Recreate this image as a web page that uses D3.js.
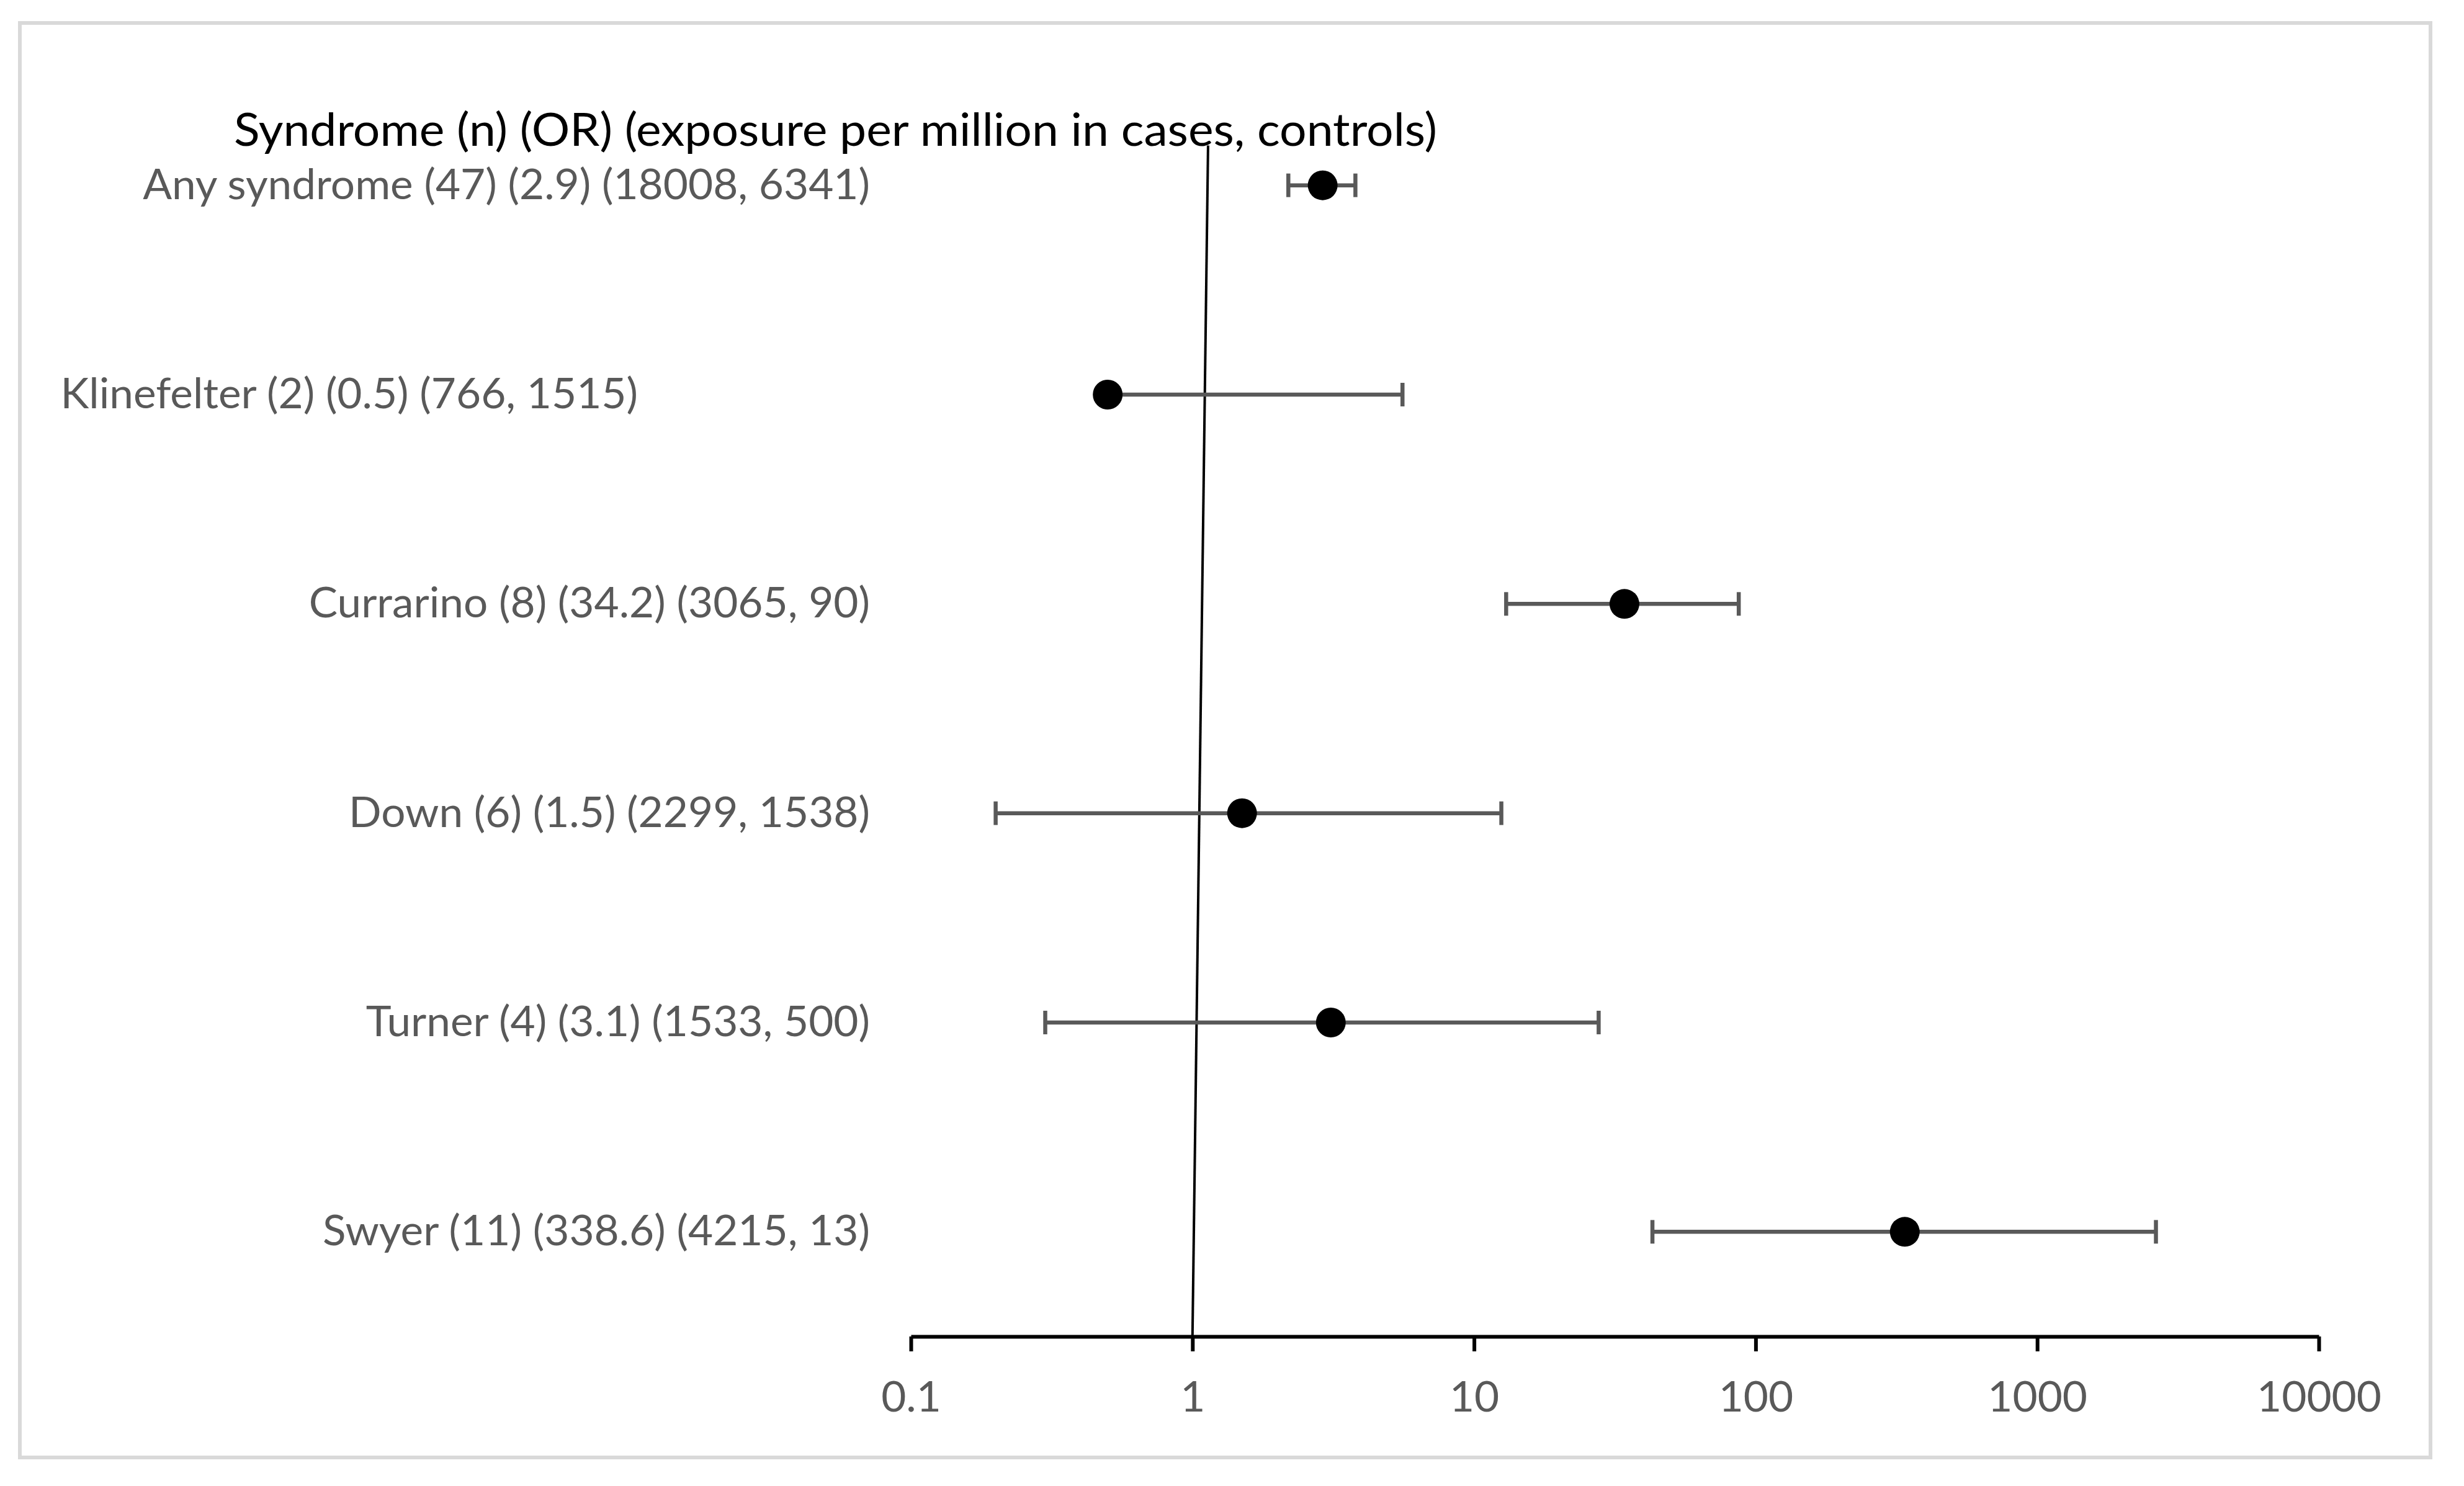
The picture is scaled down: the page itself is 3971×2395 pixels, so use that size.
<!DOCTYPE html>
<html>
<head>
<meta charset="utf-8">
<script src="https://cdn.jsdelivr.net/npm/d3@7"></script>
<style>
  html, body { margin: 0; padding: 0; background: #fff; }
  text { font-family: Lato, "Open Sans", sans-serif; }
</style>
</head>
<body>
<div id="chart"></div>
<script>
// syndromes, top to bottom
var names = ["Any syndrome", "Klinefelter", "Currarino", "Down", "Turner", "Swyer"];
var counts = [47, 2, 8, 6, 4, 11];
var oddsRatios = [2.9, 0.5, 34.2, 1.5, 3.1, 338.6];
var casesExposure = [18008, 766, 3065, 2299, 1533, 4215];
var controlsExposure = [6341, 1515, 90, 1538, 500, 13];
var ciLow = [2.19, 0.5, 13.0, 0.20, 0.30, 43.0];
var ciHigh = [3.79, 5.57, 87.1, 12.5, 27.7, 2640];
var rowPos = [5.5, 4.5, 3.5, 2.5, 1.5, 0.5];

var tickValues = [0.1, 1, 10, 100, 1000, 10000];
var tickLabels = ["0.1", "1", "10", "100", "1000", "10000"];

// the reference line drawn in the original (slightly tilted)
var refLineX = [1, 1.136];
var refLineY = [0, 5.69];

var titleText = "Syndrome (n) (OR) (exposure per million in cases, controls)";

var W = 3971, H = 2395;
var grey = "#595959";

var svg = d3.select("#chart").append("svg")
    .attr("width", W)
    .attr("height", H);

svg.append("rect")
    .attr("x", 32).attr("y", 37)
    .attr("width", 3885).attr("height", 2312)
    .attr("fill", "#fff")
    .attr("stroke", "#d9d9d9")
    .attr("stroke-width", 6);

var x = d3.scaleLog().domain([0.1, 10000]).range([1468, 3737]);
var y = d3.scaleLinear().domain([0, 6]).range([2154, 130]);

var rows = names.map(function(name, i) {
    return {
        name: name, n: counts[i], or: oddsRatios[i],
        cases: casesExposure[i], controls: controlsExposure[i],
        lo: ciLow[i], hi: ciHigh[i], pos: rowPos[i]
    };
});

// x axis
var axis = d3.axisBottom(x)
    .tickValues(tickValues)
    .tickFormat(function(d, i) { return tickLabels[i]; })
    .tickSize(24)
    .tickSizeOuter(0);

var gx = svg.append("g")
    .attr("transform", "translate(0," + y(0) + ")")
    .call(axis);
gx.select(".domain").attr("stroke", "#000").attr("stroke-width", 6);
gx.selectAll(".tick line").attr("stroke", "#000").attr("stroke-width", 6);
gx.selectAll(".tick text")
    .attr("y", 121)
    .attr("dy", 0)
    .attr("fill", grey)
    .style("font-size", "67px");

// reference line
svg.append("line")
    .attr("x1", x(refLineX[0])).attr("y1", y(refLineY[0]))
    .attr("x2", x(refLineX[1])).attr("y2", y(refLineY[1]))
    .attr("stroke", "#000")
    .attr("stroke-width", 4);

// error bars
var bars = svg.append("g").selectAll("g.bar")
    .data(rows).enter().append("g")
    .attr("class", "bar")
    .attr("stroke", grey)
    .attr("stroke-width", 6.5);

bars.append("line")
    .attr("x1", function(d) { return x(d.lo); })
    .attr("x2", function(d) { return x(d.hi); })
    .attr("y1", function(d) { return y(d.pos); })
    .attr("y2", function(d) { return y(d.pos); });
bars.append("line")
    .attr("x1", function(d) { return x(d.lo); })
    .attr("x2", function(d) { return x(d.lo); })
    .attr("y1", function(d) { return y(d.pos) - 19; })
    .attr("y2", function(d) { return y(d.pos) + 19; });
bars.append("line")
    .attr("x1", function(d) { return x(d.hi); })
    .attr("x2", function(d) { return x(d.hi); })
    .attr("y1", function(d) { return y(d.pos) - 19; })
    .attr("y2", function(d) { return y(d.pos) + 19; });

// points
svg.append("g").selectAll("circle")
    .data(rows).enter().append("circle")
    .attr("cx", function(d) { return x(d.or); })
    .attr("cy", function(d) { return y(d.pos); })
    .attr("r", 24)
    .attr("fill", "#000");

// row labels
var labels = svg.append("g").selectAll("text")
    .data(rows).enter().append("text")
    .attr("text-anchor", "end")
    .attr("fill", grey)
    .style("font-size", "67px")
    .attr("x", function(d) { return d.name === "Klinefelter" ? 1028 : 1402; })
    .attr("y", function(d) { return y(d.pos) + 22; })
    .text(function(d) {
        return d.name + " (" + d.n + ") (" + d.or + ") (" + d.cases + ", " + d.controls + ")";
    });

// squeeze the labels a bit, the original font is narrower
var swyerNode = labels.filter(function(d) { return d.name === "Swyer"; }).node();
var squeeze = 882 / swyerNode.getComputedTextLength();
labels.each(function() {
    var w = this.getComputedTextLength();
    d3.select(this).attr("textLength", w * squeeze).attr("lengthAdjust", "spacingAndGlyphs");
});
gx.selectAll(".tick text").each(function() {
    var w = this.getComputedTextLength();
    d3.select(this).attr("textLength", w * squeeze).attr("lengthAdjust", "spacingAndGlyphs");
});

var title = svg.append("text")
    .attr("x", 377)
    .attr("y", 235)
    .attr("fill", "#000")
    .style("font-size", "74px")
    .text(titleText);
title.attr("textLength", 1939).attr("lengthAdjust", "spacingAndGlyphs");
</script>
</body>
</html>
